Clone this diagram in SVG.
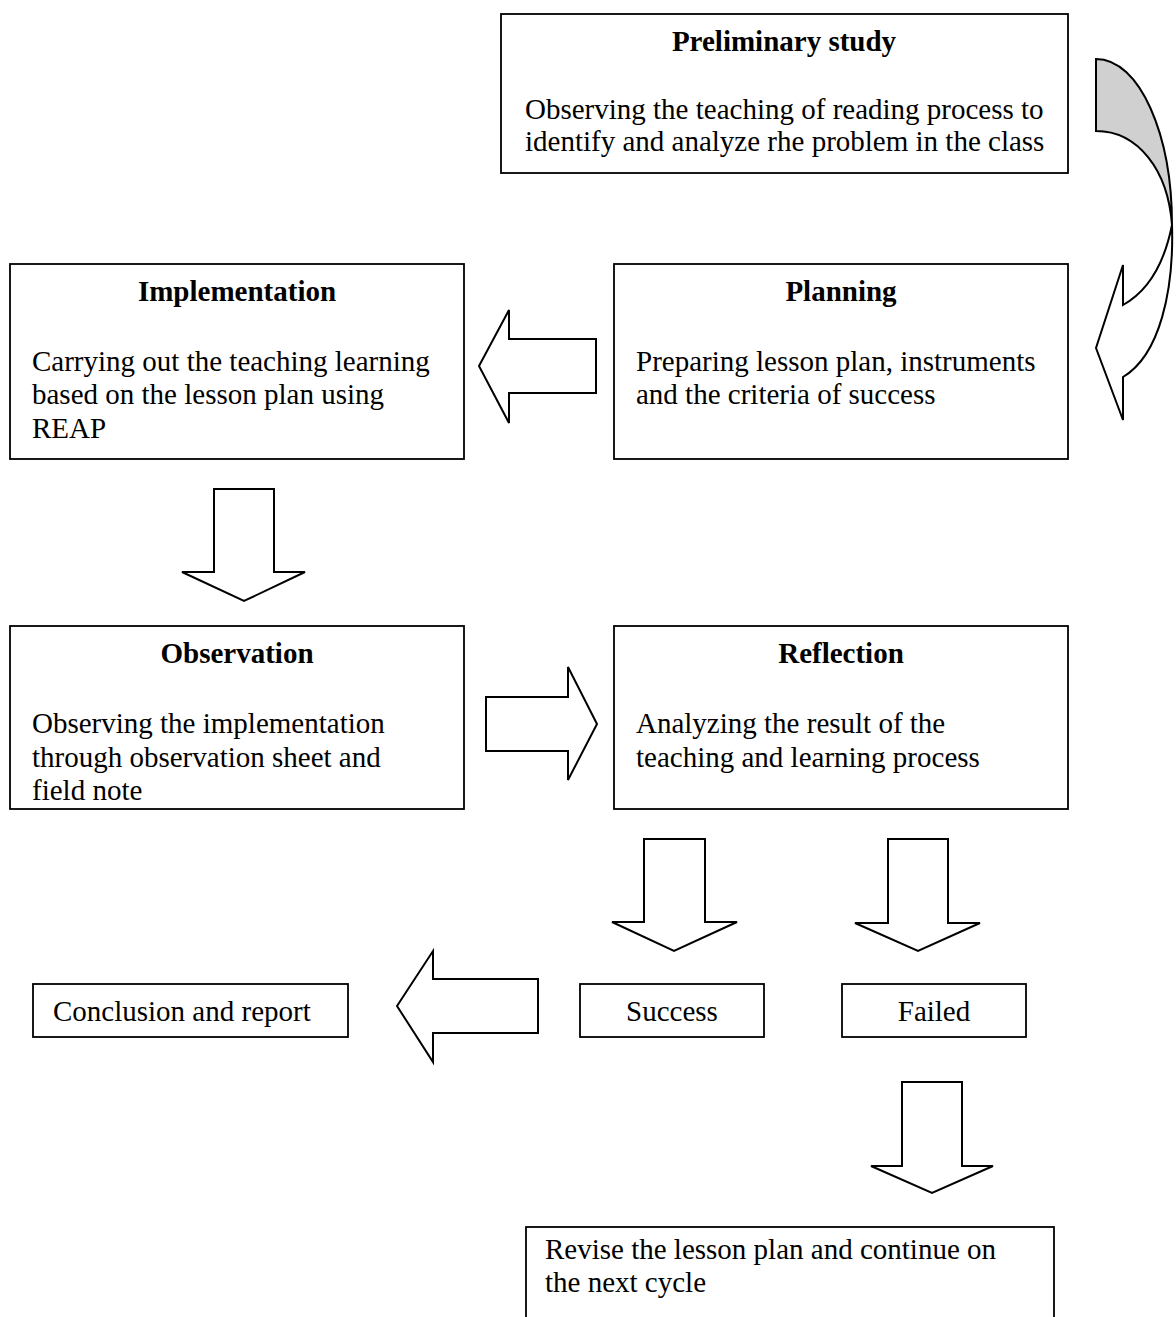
<svg xmlns="http://www.w3.org/2000/svg" width="1176" height="1317" viewBox="0 0 1176 1317">
<style>
.box{fill:#fff;stroke:#000;stroke-width:1.8}
.arr{fill:#fff;stroke:#000;stroke-width:2;stroke-linejoin:miter}
text{font-family:"Liberation Serif","Times New Roman",serif;font-size:29px;fill:#000}
.t{font-weight:bold;text-anchor:middle}
.c{text-anchor:middle}
</style>
<rect width="1176" height="1317" fill="#fff"/>
<g id="connectors">
  <path id="curved" class="arr" d="M1172,225 C1174,290 1160,355 1123,377 L1123,420 L1096,348 L1123,265 L1123,305 C1150,290 1165,260 1172,225 Z"/>
  <path id="curved-back" d="M1096,59 C1140,59 1172,135 1172,225 C1168,170 1138,131 1096,131 Z" fill="#d0d0d0" stroke="#000" stroke-width="2"/>
  <path class="arr" d="M479,366 L509,310 L509,339 L596,339 L596,393 L509,393 L509,423 Z"/>
  <path class="arr" d="M214,489 L274,489 L274,572 L305,572 L244,601 L182,572 L214,572 Z"/>
  <path class="arr" d="M486,697 L568,697 L568,667 L597,724 L568,780 L568,751 L486,751 Z"/>
  <path class="arr" d="M644,839 L705,839 L705,922 L737,922 L674,951 L612,922 L644,922 Z"/>
  <path class="arr" d="M888,839 L948,839 L948,923 L980,923 L918,951 L855,923 L888,923 Z"/>
  <path class="arr" d="M902,1082 L962,1082 L962,1166 L993,1166 L932,1193 L871,1166 L902,1166 Z"/>
  <path class="arr" d="M397,1006 L433,951 L433,979 L538,979 L538,1033 L433,1033 L433,1062 Z"/>
</g>
<g id="preliminary">
  <rect class="box" x="501" y="14" width="567" height="159"/>
  <text class="t" x="784" y="51">Preliminary study</text>
  <text x="525" y="119">Observing the teaching of reading process to</text>
  <text x="525" y="151">identify and analyze rhe problem in the class</text>
</g>
<g id="implementation">
  <rect class="box" x="10" y="264" width="454" height="195"/>
  <text class="t" x="237" y="301">Implementation</text>
  <text x="32" y="371">Carrying out the teaching learning</text>
  <text x="32" y="404">based on the lesson plan using</text>
  <text x="32" y="438">REAP</text>
</g>
<g id="planning">
  <rect class="box" x="614" y="264" width="454" height="195"/>
  <text class="t" x="841" y="301">Planning</text>
  <text x="636" y="371">Preparing lesson plan, instruments</text>
  <text x="636" y="404">and the criteria of success</text>
</g>
<g id="observation">
  <rect class="box" x="10" y="626" width="454" height="183"/>
  <text class="t" x="237" y="663">Observation</text>
  <text x="32" y="733">Observing the implementation</text>
  <text x="32" y="767">through observation sheet and</text>
  <text x="32" y="800">field note</text>
</g>
<g id="reflection">
  <rect class="box" x="614" y="626" width="454" height="183"/>
  <text class="t" x="841" y="663">Reflection</text>
  <text x="636" y="733">Analyzing the result of the</text>
  <text x="636" y="767">teaching and learning process</text>
</g>
<g id="conclusion">
  <rect class="box" x="33" y="984" width="315" height="53"/>
  <text x="53" y="1021">Conclusion and report</text>
</g>
<g id="success">
  <rect class="box" x="580" y="984" width="184" height="53"/>
  <text class="c" x="672" y="1021">Success</text>
</g>
<g id="failed">
  <rect class="box" x="842" y="984" width="184" height="53"/>
  <text class="c" x="934" y="1021">Failed</text>
</g>
<g id="revise">
  <rect class="box" x="526" y="1227" width="528" height="100"/>
  <text x="545" y="1259">Revise the lesson plan and continue on</text>
  <text x="545" y="1292">the next cycle</text>
</g>
</svg>
